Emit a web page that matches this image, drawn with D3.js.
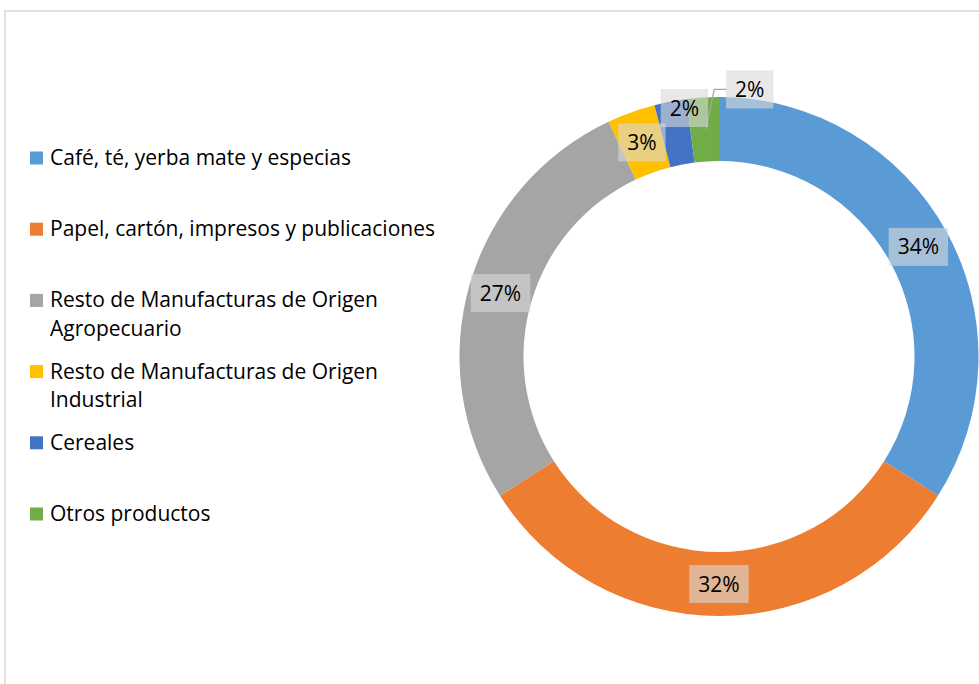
<!DOCTYPE html>
<html>
<head>
<meta charset="utf-8">
<script src="https://cdn.jsdelivr.net/npm/d3@7"></script>
<style>
    html, body { margin: 0; padding: 0; background: #fff; }
    svg { display: block; font-family: "Open Sans", Lato, sans-serif; }
</style>
</head>
<body>
<div id="chart"></div>
<script>
// data
const categories = [
    "Café, té, yerba mate y especias",
    "Papel, cartón, impresos y publicaciones",
    "Resto de Manufacturas de Origen Agropecuario",
    "Resto de Manufacturas de Origen Industrial",
    "Cereales",
    "Otros productos"
];
const shares = [34, 32, 27, 3, 2, 2];
const colors = ["#5B9BD5", "#ED7D31", "#A5A5A5", "#FFC000", "#4472C4", "#70AD47"];
// legend text, wrapped as in the picture
const legendLines = [
    ["Café, té, yerba mate y especias"],
    ["Papel, cartón, impresos y publicaciones"],
    ["Resto de Manufacturas de Origen", "Agropecuario"],
    ["Resto de Manufacturas de Origen", "Industrial"],
    ["Cereales"],
    ["Otros productos"]
];

const width = 979, height = 684;
const cx = 719, cy = 356.5;
const outerR = 259.5, innerR = 195.5;

const svg = d3.select("#chart").append("svg")
    .attr("width", width)
    .attr("height", height);

// chart frame (runs off the right and bottom edges)
svg.append("rect")
    .attr("x", 5).attr("y", 11)
    .attr("width", width + 20).attr("height", height + 20)
    .attr("fill", "none")
    .attr("stroke", "#D9D9D9")
    .attr("stroke-width", 1.5);

const data = categories.map((c, i) => ({ name: c, value: shares[i], color: colors[i] }));

const pie = d3.pie().value(d => d.value).sort(null);
const arc = d3.arc().innerRadius(innerR).outerRadius(outerR);
const midArc = d3.arc().innerRadius((innerR + outerR) / 2).outerRadius((innerR + outerR) / 2);
const arcs = pie(data);

const g = svg.append("g").attr("transform", `translate(${cx},${cy})`);

g.selectAll("path.slice")
    .data(arcs)
    .enter().append("path")
    .attr("class", "slice")
    .attr("d", arc)
    .attr("fill", d => d.data.color);

// small slices have their labels pulled out of the ring
const labelNudge = {
    "Cereales": [8, -25],
    "Otros productos": [45, -40]
};
const labelFont = 21;

const labels = g.selectAll("g.label")
    .data(arcs)
    .enter().append("g")
    .attr("class", "label")
    .attr("transform", d => {
        const [x, y] = midArc.centroid(d);
        const n = labelNudge[d.data.name] || [0, 0];
        return `translate(${x + n[0]},${y + n[1]})`;
    });

// leader line for the label moved far away
labels.filter(d => d.data.name === "Otros productos").each(function(d) {
    const [x, y] = midArc.centroid(d);
    const n = labelNudge[d.data.name];
    const boxLeft = -23;
    d3.select(this.parentNode).insert("path", "g.label")
        .attr("d", d3.line()([
            [x + n[0] + boxLeft, y + n[1]],
            [x + 9.5, y + n[1]],
            [x + 1.3, y]
        ]))
        .attr("fill", "none")
        .attr("stroke", "#A6A6A6")
        .attr("stroke-width", 1.3);
});

labels.each(function(d) {
    const sel = d3.select(this);
    const txt = sel.append("text")
        .attr("text-anchor", "middle")
        .attr("dy", "0.36em")
        .attr("font-size", labelFont)
        .attr("fill", "#000")
        .text(d.data.value + "%");
    const w = txt.node().getComputedTextLength() + 18;
    sel.insert("rect", "text")
        .attr("x", -w / 2).attr("y", -19)
        .attr("width", w).attr("height", 38)
        .attr("fill", "#D9D9D9")
        .attr("fill-opacity", 0.6);
});

// legend
const legendX = 30, legendY = 165, legendStep = 71.2, lineGap = 28.5;
const legend = svg.append("g")
    .selectAll("g")
    .data(data)
    .enter().append("g")
    .attr("transform", (d, i) => `translate(${legendX},${legendY + i * legendStep})`);

legend.append("rect")
    .attr("x", 0).attr("y", -13.5)
    .attr("width", 13).attr("height", 13)
    .attr("fill", d => d.color);

legend.append("text")
    .attr("x", 20)
    .attr("font-size", 21)
    .attr("fill", "#000")
    .selectAll("tspan")
    .data((d, i) => legendLines[i])
    .enter().append("tspan")
    .attr("x", 20)
    .attr("dy", (d, i) => i === 0 ? 0 : lineGap)
    .text(d => d);
</script>
</body>
</html>
